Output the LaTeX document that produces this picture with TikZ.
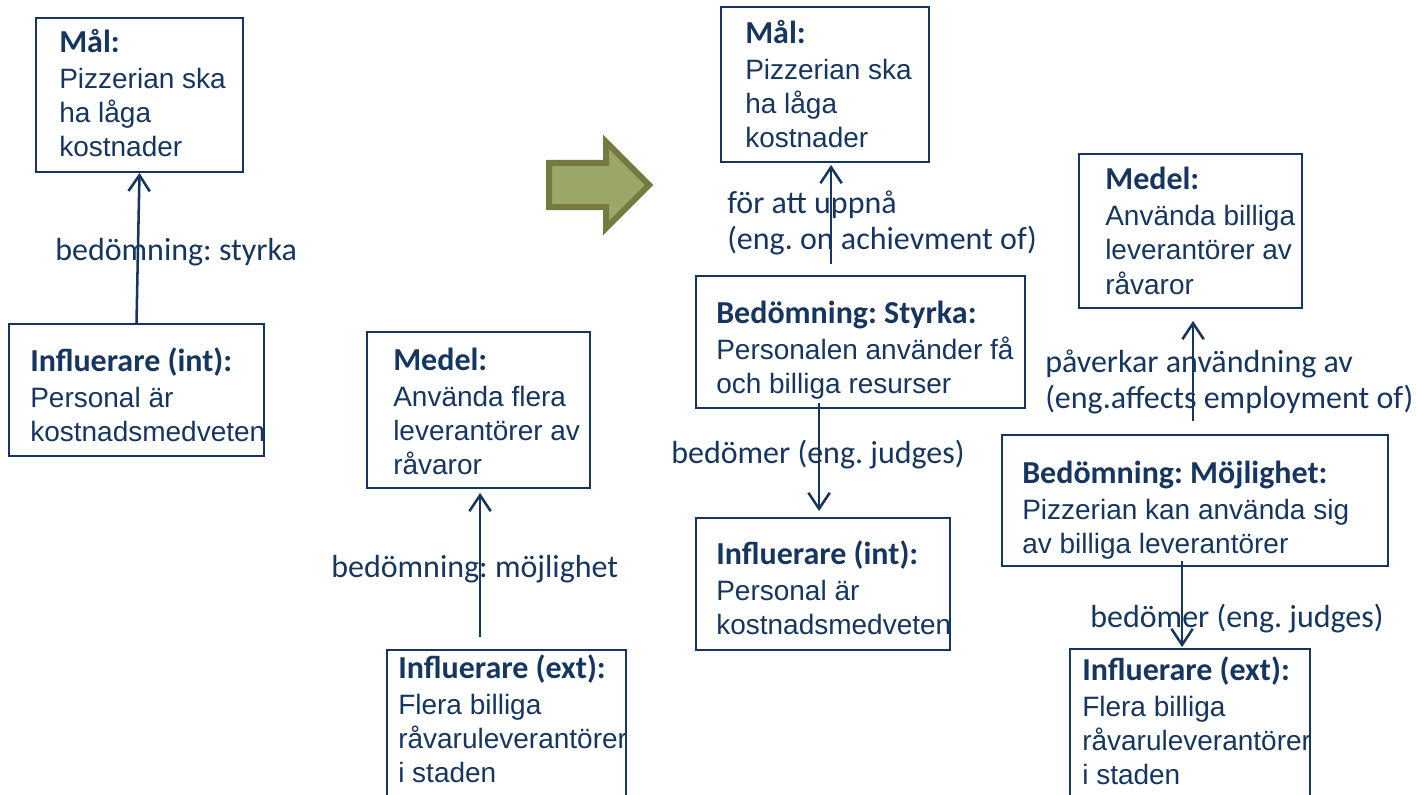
\documentclass[tikz,border=0pt]{standalone}
\usepackage{fontspec}
\setmainfont{Liberation Sans}
\newfontfamily\calfont{Carlito}
\usetikzlibrary{arrows.meta,fit,calc}
\frenchspacing
\definecolor{navy}{RGB}{22,54,96}
\definecolor{olivef}{RGB}{155,167,104}
\definecolor{olived}{RGB}{117,122,64}
\tikzset{
 box/.style={draw=navy, line width=1.4pt, inner sep=0pt},
 txt/.style={anchor=base west, inner sep=0pt, text width=400pt, align=flush left, text=navy, font=\frenchspacing\fontsize{21}{25.5}\selectfont},
 lbl/.style={anchor=base west, inner sep=0pt, text=navy, font=\frenchspacing\calfont\fontsize{24}{27}\selectfont},
 lblm/.style={lbl, text width=400pt, align=flush left, font=\frenchspacing\calfont\fontsize{24}{27}\selectfont},
 conn/.style={draw=navy, line width=1.9pt, -{Straight Barb[length=12pt,width=16pt,line width=1.9pt]}},
}
\newcommand{\hd}[1]{{\calfont\bfseries\fontsize{24}{25.5}\selectfont #1}\\[1.5pt]}
\begin{document}
\begin{tikzpicture}[x=0.75pt,y=-0.75pt]
\useasboundingbox (0,0) rectangle (1416,795);
\clip (0,0) rectangle (1416,795);
% left
\node[box, fit={(36,18) (243,172)}] (mal1) {};
\node[txt] (mal1t) at (59,53) {\hd{Mål:}Pizzerian ska\\ha låga\\kostnader};
\node[box, fit={(9,324) (264,456)}] (inf1) {};
\node[txt] (inf1t) at (30,371) {\hd{Influerare (int):}Personal är\\kostnadsmedveten};
% middle
\node[box, fit={(367,332) (590,488)}] (med1) {};
\node[txt] (med1t) at (393,370) {\hd{Medel:}Använda flera\\leverantörer av\\råvaror};
\node[box, fit={(387,650) (626,812)}] (ext1) {};
\node[txt] (ext1t) at (398,678) {\hd{Influerare (ext):}Flera billiga\\råvaruleverantörer\\i staden};
% big arrow
\filldraw[fill=olivef, draw=olived, line width=4.5pt, line join=miter]
  (549,163) -- (606,163) -- (606,142) -- (649,185) -- (606,228) -- (606,207) -- (549,207) -- cycle;
% right
\node[box, fit={(721,7) (929,162)}] (mal2) {};
\node[txt] (mal2t) at (745,44) {\hd{Mål:}Pizzerian ska\\ha låga\\kostnader};
\node[box, fit={(696,276) (1025,408)}] (sty) {};
\node[txt] (styt) at (716,323) {\hd{Bedömning: Styrka:}Personalen använder få\\och billiga resurser};
\node[box, fit={(696,518) (950,650)}] (inf2) {};
\node[txt] (inf2t) at (716,564) {\hd{Influerare (int):}Personal är\\kostnadsmedveten};
\node[box, fit={(1079,154) (1302,308)}] (med2) {};
\node[txt] (med2t) at (1105,190) {\hd{Medel:}Använda billiga\\leverantörer av\\råvaror};
\node[box, fit={(1002,435) (1388,566)}] (moj) {};
\node[txt] (mojt) at (1022,483) {\hd{Bedömning: Möjlighet:}Pizzerian kan använda sig\\av billiga leverantörer};
\node[box, fit={(1070,649) (1310,812)}] (ext2) {};
\node[txt] (ext2t) at (1082,680) {\hd{Influerare (ext):}Flera billiga\\råvaruleverantörer\\i staden};
% connectors
\draw[conn] (inf1.north) -- (mal1.south);
\draw[conn] ($(ext1.north west)+(94,-12)$) -- ($(med1.south west)+(114,4)$);
\draw[conn] ($(sty.north west)+(136,-11)$) -- ($(mal2.south west)+(111,2)$);
\draw[conn] ($(sty.south west)+(124,-6)$) -- ($(inf2.north west)+(124,-6)$);
\draw[conn] ($(moj.north west)+(192,-13)$) -- ($(med2.south west)+(115,12)$);
\draw[conn] ($(moj.south west)+(181,-6)$) -- ($(ext2.north west)+(113,-1)$);
% labels
\node[lbl] (l1) at (55,260) {bedömning: styrka};
\node[lbl] (l2) at (331,577) {bedömning: möjlighet};
\node[lblm] (l3) at (727,213) {för att uppnå\\(eng. on achievment of)};
\node[lbl] (l4) at (671,463) {bedömer (eng. judges)};
\node[lblm] (l5) at (1045,372) {påverkar användning av\\(eng.affects employment of)};
\node[lbl] (l6) at (1090,627) {bedömer (eng. judges)};
\end{tikzpicture}
\end{document}
